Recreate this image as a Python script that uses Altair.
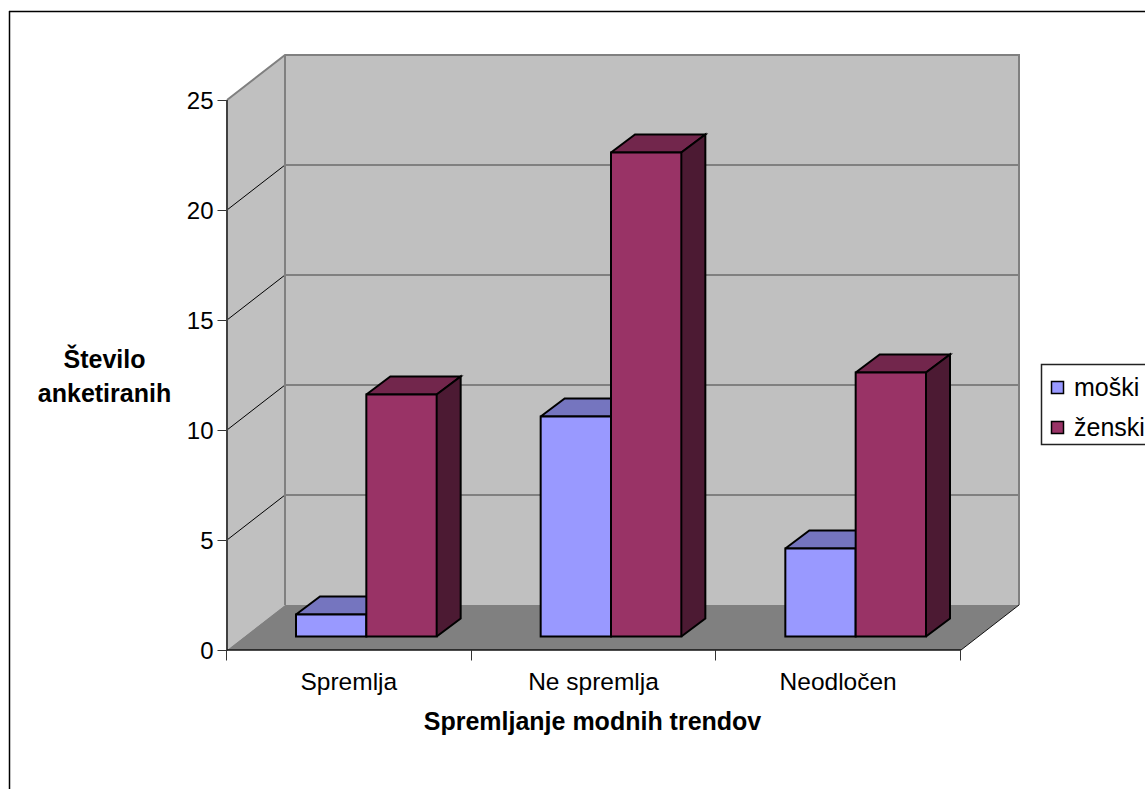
import altair as alt
import pandas as pd

# Survey counts per answer and gender
categories = ["Spremlja", "Ne spremlja", "Neodločen"]
male = [1, 10, 4]
female = [11, 22, 12]
series = ["moški", "ženski"]
y_ticks = [0, 5, 10, 15, 20, 25]

COL_MALE, COL_FEMALE = "#9999FF", "#993366"
TOP_MALE, TOP_FEMALE = "#7575BF", "#72264C"
SIDE_FEMALE = "#4C1A33"
WALL, FLOOR = "#C0C0C0", "#808080"
FONT = "Liberation Sans"

# Oblique projection of the depth axis, in axis units
DX = 58 / (734 / 3)
DY = 45 / 22
# Bars sit part way into the depth of the floor
BASE_X = 17 / (734 / 3)
BASE_Y = 13.5 / 22
BAR_DX = 24 / (734 / 3)
BAR_DY = 18 / 22
GAP = 52 / (734 / 3)
BAR_W = (1 - 2 * GAP) / 2

x_scale = alt.Scale(domain=[0, 3 + DX], nice=False, zero=False)
y_scale = alt.Scale(domain=[0, 25 + DY], nice=False, zero=False)
X = lambda f, **k: alt.X(f, type="quantitative", scale=x_scale, **k)
Y = lambda f, **k: alt.Y(f, type="quantitative", scale=y_scale, **k)


def polyline(points):
    return pd.DataFrame([{"x": px, "y": py, "i": i} for i, (px, py) in enumerate(points)])


def outline(points, color, width):
    return alt.Chart(polyline(points)).mark_line(
        color=color, strokeWidth=width, clip=False, strokeJoin="miter"
    ).encode(X("x", axis=None), Y("y", axis=None), order="i:Q")


def ribbon(rows, fill):
    data = pd.DataFrame(rows, columns=["x", "y", "y2"])
    return alt.Chart(data).mark_area(color=fill, opacity=1).encode(
        X("x", axis=None), Y("y", axis=None), y2="y2:Q"
    )


layers = []

# Back wall, left wall and floor
layers.append(ribbon([(DX, DY, 25 + DY), (3 + DX, DY, 25 + DY)], WALL))
layers.append(ribbon([(0, 0, 25), (DX, DY, 25 + DY)], WALL))
layers.append(ribbon([(0, 0, 0), (DX, 0, DY), (3, 0, DY), (3 + DX, DY, DY)], FLOOR))

# Gridlines running along both walls
for v in y_ticks[1:-1]:
    layers.append(outline([(0, v), (DX, v + DY)], "#000000", 1))
    layers.append(outline([(DX, v + DY), (3 + DX, v + DY)], "#404040", 1))

# Wall and floor edges
layers.append(outline([(0, 25), (DX, 25 + DY), (3 + DX, 25 + DY), (3 + DX, DY)], "#808080", 2))
layers.append(outline([(DX, 25 + DY), (DX, DY)], "#808080", 2))
layers.append(outline([(0, 0), (0, 25)], "#404040", 2))
layers.append(outline([(0, 0), (3, 0)], "#111111", 1.5))
layers.append(outline([(3, 0), (3 + DX, DY)], "#111111", 1))


def box_back(x0, x1, top, top_fill, side_fill):
    """Top and side faces of one bar, drawn before the front faces."""
    faces = []
    a = x0
    b = x1
    dx, dy = BAR_DX, BAR_DY
    faces.append(ribbon([(a, top, top), (a + dx, top, top + dy), (b, top, top + dy), (b + dx, top + dy, top + dy)], top_fill))
    faces.append(outline([(a, top), (a + dx, top + dy), (b + dx, top + dy), (b, top), (a, top)], "black", 2))
    if side_fill:
        faces.append(ribbon([(b, BASE_Y, top), (b + dx, BASE_Y + dy, top + dy)], side_fill))
        faces.append(outline([(b, BASE_Y), (b + dx, BASE_Y + dy), (b + dx, top + dy), (b, top)], "black", 2))
    return faces


front_rows = []
for i, name in enumerate(categories):
    left = i + BASE_X + GAP
    mid = left + BAR_W
    right = mid + BAR_W
    layers += box_back(left, mid, BASE_Y + male[i], TOP_MALE, None)
    layers += box_back(mid, right, BASE_Y + female[i], TOP_FEMALE, SIDE_FEMALE)
    front_rows.append({"x": left, "x2": mid, "y": BASE_Y, "y2": BASE_Y + male[i], "s": series[0]})
    front_rows.append({"x": mid, "x2": right, "y": BASE_Y, "y2": BASE_Y + female[i], "s": series[1]})

# Legend background box, running off the right edge of the page
legend_box = alt.Chart(pd.DataFrame({"a": [0]})).mark_rect(
    fill="white", stroke="#222222", strokeWidth=1.5, clip=False
).encode(x=alt.value(814.5), x2=alt.value(930), y=alt.value(309.5), y2=alt.value(389.5))
layers.append(legend_box)

# Front faces carry the colour legend
fronts = alt.Chart(pd.DataFrame(front_rows)).mark_rect(stroke="black", strokeWidth=2, opacity=1).encode(
    X("x", axis=None),
    Y("y", axis=None),
    x2="x2:Q",
    y2="y2:Q",
    color=alt.Color(
        "s:N",
        scale=alt.Scale(domain=series, range=[COL_MALE, COL_FEMALE]),
        legend=alt.Legend(
            title=None,
            orient="none",
            legendX=818,
            legendY=320,
            padding=0,
            symbolType="square",
            symbolSize=144,
            symbolStrokeColor="black",
            symbolStrokeWidth=1.5,
            symbolOpacity=1,
            labelFont=FONT,
            labelFontSize=25,
            labelColor="black",
            rowPadding=14,
            labelOffset=4,
            labelLimit=200,
        ),
    ),
)
layers.append(fronts)

# Axes: ticks at category edges and labels at category centres
tick_axis = alt.Chart(pd.DataFrame({"x": [0.0], "y": [0.0]})).mark_point(opacity=0).encode(
    X(
        "x",
        axis=alt.Axis(
            orient="bottom",
            values=[0, 1, 2, 3],
            labels=False,
            grid=False,
            domain=False,
            tickColor="#333333",
            tickSize=10,
            tickOffset=-1,
            title=None,
        ),
    ),
    Y(
        "y",
        axis=alt.Axis(
            orient="left",
            values=y_ticks,
            grid=False,
            domain=False,
            tickColor="#333333",
            tickSize=10,
            labelFont=FONT,
            labelFontSize=24,
            labelColor="black",
            labelPadding=4,
            labelOffset=1,
            title=["Število", "anketiranih"],
            titleFont=FONT,
            titleFontSize=25,
            titleFontWeight="bold",
            titleColor="black",
            titleAngle=0,
            titleAlign="center",
            titleBaseline="middle",
            titleX=-123,
            titleY=304,
            titleLineHeight=34,
        ),
    ),
)
label_lookup = "{" + ",".join(f"'{i + 0.5}':'{c}'" for i, c in enumerate(categories)) + "}"
label_axis = alt.Chart(pd.DataFrame({"x": [0.0], "y": [0.0]})).mark_point(opacity=0).encode(
    X(
        "x",
        axis=alt.Axis(
            orient="bottom",
            values=[0.5, 1.5, 2.5],
            tickSize=0,
            domain=False,
            grid=False,
            labelExpr=label_lookup + "[datum.value]",
            labelFont=FONT,
            labelFontSize=24.5,
            labelColor="black",
            labelPadding=20,
            labelOffset=-1,
            title="Spremljanje modnih trendov",
            titleFont=FONT,
            titleFontSize=25,
            titleFontWeight="bold",
            titleColor="black",
            titleBaseline="middle",
            titleX=365,
            titleY=71,
        ),
    ),
    Y("y", axis=None),
)
layers += [tick_axis, label_axis]

# Outer chart border: only its left and top edges fall inside the page
frame_top = alt.Chart(pd.DataFrame({"a": [0]})).mark_rule(color="black", strokeWidth=1.5, clip=False).encode(
    x=alt.value(-218), x2=alt.value(918), y=alt.value(-43.5)
)
frame_left = alt.Chart(pd.DataFrame({"a": [0]})).mark_rule(color="black", strokeWidth=1.5, clip=False).encode(
    x=alt.value(-217.5), y=alt.value(-44), y2=alt.value(735)
)
layers += [frame_top, frame_left]

chart = alt.layer(*layers).resolve_scale(x="shared", y="shared").resolve_axis(
    x="independent", y="independent"
).properties(
    width=792,
    height=595,
    padding={"left": 227, "top": 55, "right": 126, "bottom": 139},
    autosize=alt.AutoSizeParams(type="none"),
    background="white",
).configure_view(stroke=None)

chart.save("out.html", embed_options={"renderer": "svg", "actions": False})
